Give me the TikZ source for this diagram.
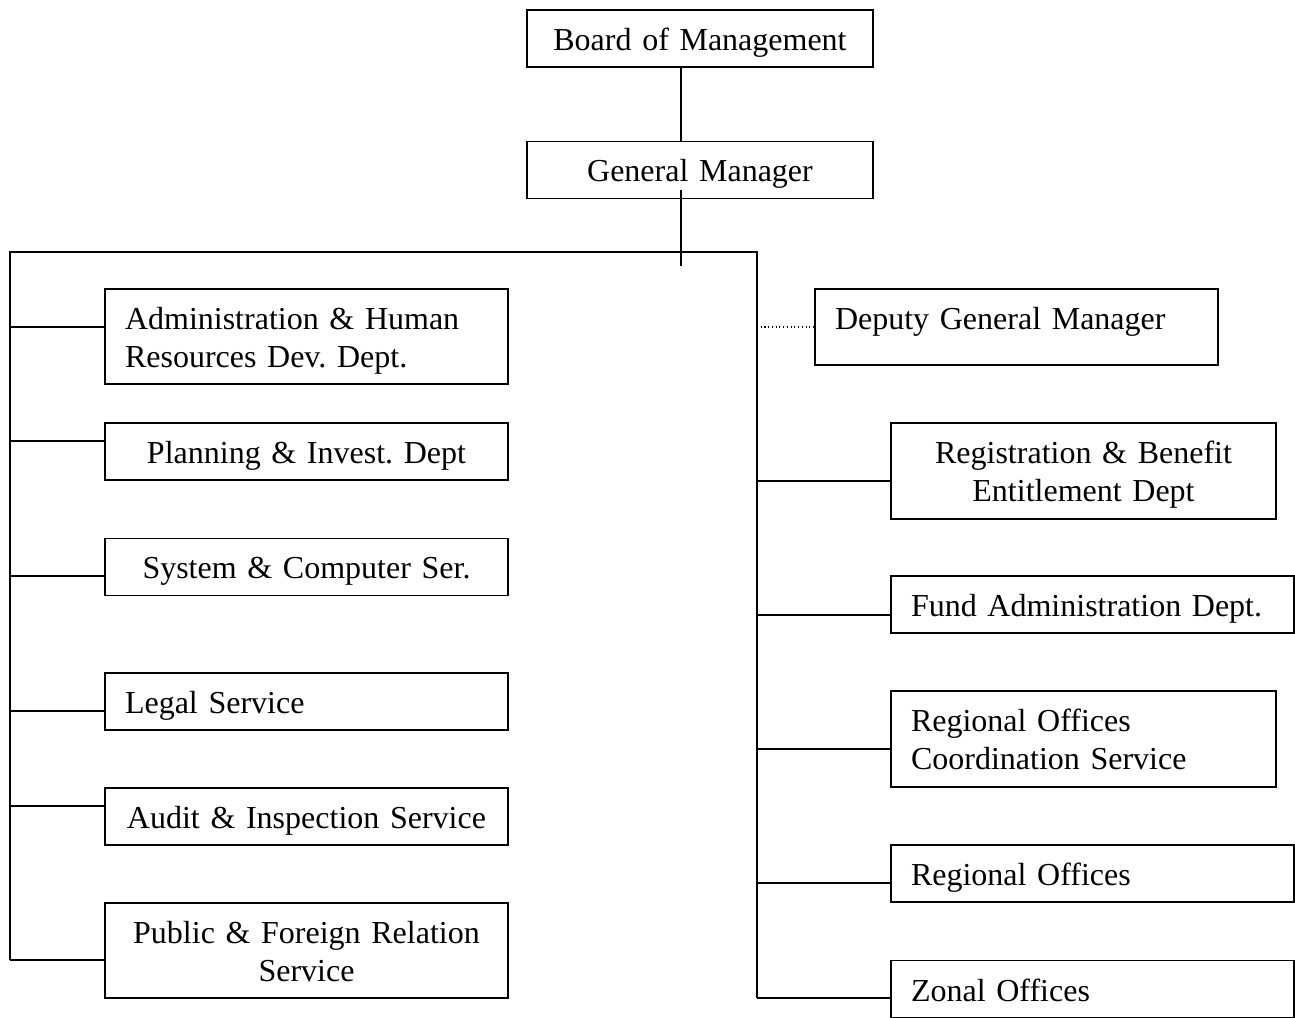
\documentclass[tikz,border=0pt]{standalone}
\usepackage{fontspec}
\setmainfont{Liberation Serif}
\frenchspacing
\usepackage{tikz}
\usetikzlibrary{calc}

\begin{document}
\begin{tikzpicture}[x=0.375pt,y=-0.375pt,line width=0.7pt,
  unit/.style={draw,rectangle,line width=0.7pt,inner xsep=7.5pt,inner ysep=0pt,
    font=\fontsize{12}{14.25}\selectfont,minimum height=21.375pt,
    text width=136.125pt,align=center,text height=11.5pt,text depth=2.5pt},
  unitl/.style={unit,align=left},
  top/.style={unit,text width=114.75pt},
  mid/.style={text width=129.375pt},
  tall/.style={minimum height=35.8pt,text height=9.5pt,text depth=15.05pt}]

\useasboundingbox (0,0) rectangle (1295,1018);

\node[top] (board) at (700,38.5) {Board of Management};
\node[top] (gm) at (700,170) {General Manager};

% left column
\node[unitl,tall] (admin) at (306.5,336.5) {Administration \& Human\\Resources Dev. Dept.};
\node[unit] (plan) at (306.5,451.5) {Planning \& Invest. Dept};
\node[unit] (sys) at (306.5,567) {System \& Computer Ser.};
\node[unitl] (legal) at (306.5,701.5) {Legal Service};
\node[unit] (audit) at (306.5,816.5) {Audit \& Inspection Service};
\node[unit,tall] (pub) at (306.5,950.5) {Public \& Foreign Relation\\Service};

% right column
\node[unitl,minimum height=28.5pt,text height=8.5pt,text depth=6.25pt] (deputy) at (1016.5,327) {Deputy General Manager};
\node[unit,mid,tall] (reg) at (1083.5,471) {Registration \& Benefit\\Entitlement Dept};
\node[unitl] (fund) at (1092.5,604.5) {Fund Administration Dept.};
\node[unitl,mid,tall] (rocs) at (1083.5,739) {Regional Offices\\Coordination Service};
\node[unitl] (regoff) at (1092.5,873.5) {Regional Offices};
\node[unitl] (zonal) at (1092.5,989) {Zonal Offices};

\coordinate (stem) at (681,266);
\coordinate (tl) at (10,252);
\coordinate (tr) at (757,252);
\coordinate (lend) at (10,960);
\coordinate (rend) at (757,998);

\draw (stem |- board.south) -- (stem |- gm.north);
\draw ($(stem |- gm.south)+(0,-9)$) -- (stem);
\draw (lend) -- (tl) -- (tr) -- (rend);

\foreach \n/\y in {admin/327,plan/441,sys/576,legal/711,audit/806,pub/960}
  \draw (10,\y) -- (\n.west |- 0,\y);
\foreach \n/\y in {reg/481,fund/615,rocs/749,regoff/883,zonal/998}
  \draw (757,\y) -- (\n.west |- 0,\y);

\draw[densely dotted,line width=0.4pt] (tr |- deputy.west) -- (deputy.west);

\end{tikzpicture}
\end{document}
